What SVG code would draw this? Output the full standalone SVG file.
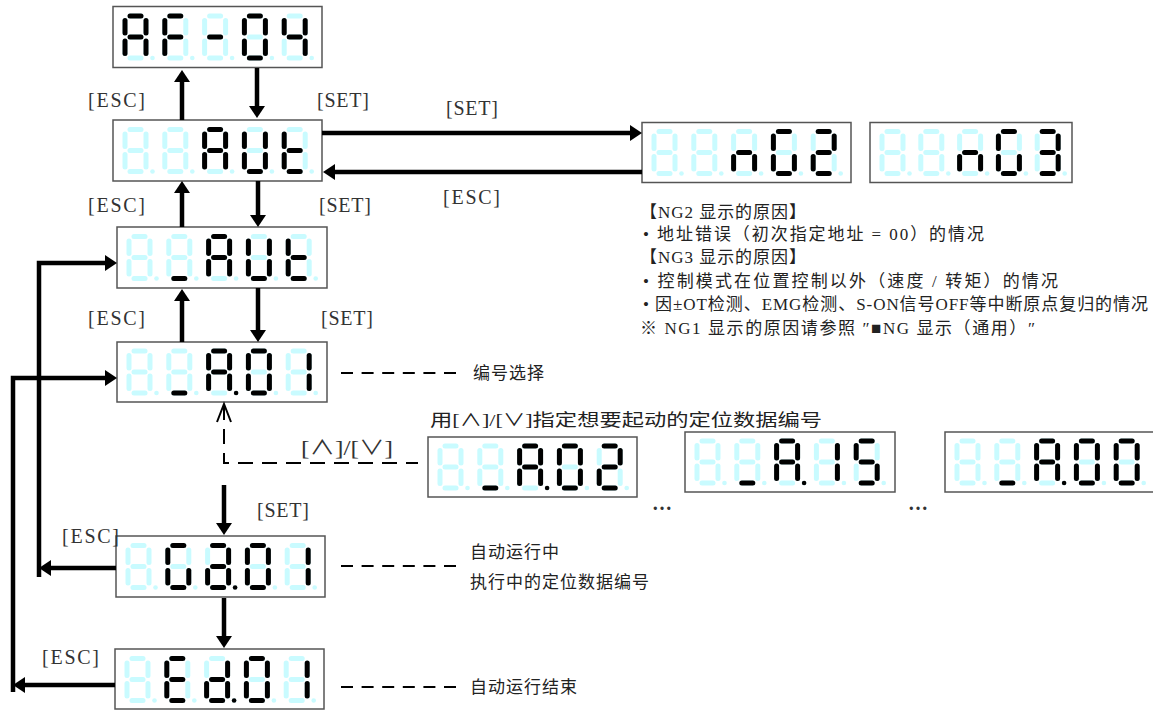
<svg xmlns="http://www.w3.org/2000/svg" xmlns:xlink="http://www.w3.org/1999/xlink" width="1153" height="710" viewBox="0 0 1153 710">
<style>
.box{fill:#fff;stroke:#555;stroke-width:1.5}
.on{fill:#000}
.off{fill:#c9fbff}
.conn{stroke:#000;stroke-width:4.5;fill:none}
.dash{stroke:#000;stroke-width:2;fill:none;stroke-dasharray:15 9}
.ldash{stroke:#000;stroke-width:2;fill:none;stroke-dasharray:12 8.6}
.lbl{font-family:"Liberation Serif","Noto Sans CJK SC",serif;font-size:20px;fill:#333}
.txt{font-family:"Liberation Serif","Noto Sans CJK SC",serif;font-size:17px;fill:#222}
</style>
<defs>
<rect id="sa" x="5" y="0" width="16" height="5" rx="2.5"/>
<rect id="sb" x="21" y="4.5" width="5" height="17.5" rx="2.5"/>
<rect id="sc" x="21" y="25" width="5" height="17.5" rx="2.5"/>
<rect id="sd" x="5" y="42" width="16" height="5" rx="2.5"/>
<rect id="se" x="0" y="25" width="5" height="17.5" rx="2.5"/>
<rect id="sf" x="0" y="4.5" width="5" height="17.5" rx="2.5"/>
<rect id="sg" x="5" y="21" width="16" height="5" rx="2.5"/>
<circle id="sp" cx="30" cy="44.5" r="2.3"/>
<g id="d8" class="off">
<use href="#sa"/><use href="#sb"/><use href="#sc"/><use href="#sd"/><use href="#se"/><use href="#sf"/><use href="#sg"/><use href="#sp"/>
</g>
<marker id="ah" markerUnits="userSpaceOnUse" markerWidth="14" markerHeight="16" refX="4" refY="8" orient="auto">
<path d="M0,0 L12,8 L0,16 z" fill="#000"/>
</marker>
</defs>

<!-- AF-04 -->
<g id="disp-af04" transform="translate(113,6.5)">
<rect class="box" width="209" height="61"/>
<g transform="translate(9.5,7)"><use href="#d8"/><g class="on"><use href="#sa"/><use href="#sb"/><use href="#sc"/><use href="#se"/><use href="#sf"/><use href="#sg"/></g></g>
<g transform="translate(49.3,7)"><use href="#d8"/><g class="on"><use href="#sa"/><use href="#se"/><use href="#sf"/><use href="#sg"/></g></g>
<g transform="translate(89.1,7)"><use href="#d8"/><g class="on"><use href="#sg"/></g></g>
<g transform="translate(128.9,7)"><use href="#d8"/><g class="on"><use href="#sa"/><use href="#sb"/><use href="#sc"/><use href="#sd"/><use href="#se"/><use href="#sf"/></g></g>
<g transform="translate(168.7,7)"><use href="#d8"/><g class="on"><use href="#sb"/><use href="#sc"/><use href="#sf"/><use href="#sg"/></g></g>
</g>

<!-- AUt 1 -->
<g id="disp-aut1" transform="translate(113,120)">
<rect class="box" width="209" height="61"/>
<g transform="translate(9.5,7)"><use href="#d8"/></g>
<g transform="translate(49.3,7)"><use href="#d8"/></g>
<g transform="translate(89.1,7)"><use href="#d8"/><g class="on"><use href="#sa"/><use href="#sb"/><use href="#sc"/><use href="#se"/><use href="#sf"/><use href="#sg"/></g></g>
<g transform="translate(128.9,7)"><use href="#d8"/><g class="on"><use href="#sb"/><use href="#sc"/><use href="#sd"/><use href="#se"/><use href="#sf"/></g></g>
<g transform="translate(168.7,7)"><use href="#d8"/><g class="on"><use href="#sd"/><use href="#se"/><use href="#sf"/><use href="#sg"/></g></g>
</g>

<!-- _AUt -->
<g id="disp-aut2" transform="translate(117,227)">
<rect class="box" width="210" height="61"/>
<g transform="translate(9.5,7)"><use href="#d8"/></g>
<g transform="translate(49.3,7)"><use href="#d8"/><g class="on"><use href="#sd"/></g></g>
<g transform="translate(89.1,7)"><use href="#d8"/><g class="on"><use href="#sa"/><use href="#sb"/><use href="#sc"/><use href="#se"/><use href="#sf"/><use href="#sg"/></g></g>
<g transform="translate(128.9,7)"><use href="#d8"/><g class="on"><use href="#sb"/><use href="#sc"/><use href="#sd"/><use href="#se"/><use href="#sf"/></g></g>
<g transform="translate(168.7,7)"><use href="#d8"/><g class="on"><use href="#sd"/><use href="#se"/><use href="#sf"/><use href="#sg"/></g></g>
</g>

<!-- _A.01 -->
<g id="disp-a01" transform="translate(117,342)">
<rect class="box" width="210" height="60"/>
<g transform="translate(9.5,6.5)"><use href="#d8"/></g>
<g transform="translate(49.3,6.5)"><use href="#d8"/><g class="on"><use href="#sd"/></g></g>
<g transform="translate(89.1,6.5)"><use href="#d8"/><g class="on"><use href="#sa"/><use href="#sb"/><use href="#sc"/><use href="#se"/><use href="#sf"/><use href="#sg"/><use href="#sp"/></g></g>
<g transform="translate(128.9,6.5)"><use href="#d8"/><g class="on"><use href="#sa"/><use href="#sb"/><use href="#sc"/><use href="#sd"/><use href="#se"/><use href="#sf"/></g></g>
<g transform="translate(168.7,6.5)"><use href="#d8"/><g class="on"><use href="#sb"/><use href="#sc"/></g></g>
</g>

<!-- nG2 -->
<g id="disp-ng2" transform="translate(642,122.5)">
<rect class="box" width="209" height="60"/>
<g transform="translate(9.5,6.5)"><use href="#d8"/></g>
<g transform="translate(49.3,6.5)"><use href="#d8"/></g>
<g transform="translate(89.1,6.5)"><use href="#d8"/><g class="on"><use href="#sc"/><use href="#se"/><use href="#sg"/></g></g>
<g transform="translate(128.9,6.5)"><use href="#d8"/><g class="on"><use href="#sa"/><use href="#sc"/><use href="#sd"/><use href="#se"/><use href="#sf"/></g></g>
<g transform="translate(168.7,6.5)"><use href="#d8"/><g class="on"><use href="#sa"/><use href="#sb"/><use href="#sd"/><use href="#se"/><use href="#sg"/></g></g>
</g>

<!-- nG3 -->
<g id="disp-ng3" transform="translate(870,122.5)">
<rect class="box" width="202" height="60"/>
<g transform="translate(9.5,6.5)"><use href="#d8"/></g>
<g transform="translate(48.3,6.5)"><use href="#d8"/></g>
<g transform="translate(87.1,6.5)"><use href="#d8"/><g class="on"><use href="#sc"/><use href="#se"/><use href="#sg"/></g></g>
<g transform="translate(125.9,6.5)"><use href="#d8"/><g class="on"><use href="#sa"/><use href="#sc"/><use href="#sd"/><use href="#se"/><use href="#sf"/></g></g>
<g transform="translate(164.7,6.5)"><use href="#d8"/><g class="on"><use href="#sa"/><use href="#sb"/><use href="#sc"/><use href="#sd"/><use href="#sg"/></g></g>
</g>

<!-- _A.02 -->
<g id="disp-a02" transform="translate(428,437)">
<rect class="box" width="209" height="60"/>
<g transform="translate(9.5,6.5)"><use href="#d8"/></g>
<g transform="translate(49.3,6.5)"><use href="#d8"/><g class="on"><use href="#sd"/></g></g>
<g transform="translate(89.1,6.5)"><use href="#d8"/><g class="on"><use href="#sa"/><use href="#sb"/><use href="#sc"/><use href="#se"/><use href="#sf"/><use href="#sg"/><use href="#sp"/></g></g>
<g transform="translate(128.9,6.5)"><use href="#d8"/><g class="on"><use href="#sa"/><use href="#sb"/><use href="#sc"/><use href="#sd"/><use href="#se"/><use href="#sf"/></g></g>
<g transform="translate(168.7,6.5)"><use href="#d8"/><g class="on"><use href="#sa"/><use href="#sb"/><use href="#sd"/><use href="#se"/><use href="#sg"/></g></g>
</g>

<!-- _A.15 -->
<g id="disp-a15" transform="translate(685,432)">
<rect class="box" width="210" height="60"/>
<g transform="translate(9.5,6.5)"><use href="#d8"/></g>
<g transform="translate(49.3,6.5)"><use href="#d8"/><g class="on"><use href="#sd"/></g></g>
<g transform="translate(89.1,6.5)"><use href="#d8"/><g class="on"><use href="#sa"/><use href="#sb"/><use href="#sc"/><use href="#se"/><use href="#sf"/><use href="#sg"/><use href="#sp"/></g></g>
<g transform="translate(128.9,6.5)"><use href="#d8"/><g class="on"><use href="#sb"/><use href="#sc"/></g></g>
<g transform="translate(168.7,6.5)"><use href="#d8"/><g class="on"><use href="#sa"/><use href="#sc"/><use href="#sd"/><use href="#sf"/><use href="#sg"/></g></g>
</g>

<!-- _A.00 -->
<g id="disp-a00" transform="translate(945,432)">
<rect class="box" width="210" height="60"/>
<g transform="translate(9.5,6.5)"><use href="#d8"/></g>
<g transform="translate(49.3,6.5)"><use href="#d8"/><g class="on"><use href="#sd"/></g></g>
<g transform="translate(89.1,6.5)"><use href="#d8"/><g class="on"><use href="#sa"/><use href="#sb"/><use href="#sc"/><use href="#se"/><use href="#sf"/><use href="#sg"/><use href="#sp"/></g></g>
<g transform="translate(128.9,6.5)"><use href="#d8"/><g class="on"><use href="#sa"/><use href="#sb"/><use href="#sc"/><use href="#sd"/><use href="#se"/><use href="#sf"/></g></g>
<g transform="translate(168.7,6.5)"><use href="#d8"/><g class="on"><use href="#sa"/><use href="#sb"/><use href="#sc"/><use href="#sd"/><use href="#se"/><use href="#sf"/></g></g>
</g>

<!-- Ga.01 -->
<g id="disp-ga01" transform="translate(116,536)">
<rect class="box" width="209" height="61"/>
<g transform="translate(9.5,7)"><use href="#d8"/></g>
<g transform="translate(49.3,7)"><use href="#d8"/><g class="on"><use href="#sa"/><use href="#sc"/><use href="#sd"/><use href="#se"/><use href="#sf"/></g></g>
<g transform="translate(89.1,7)"><use href="#d8"/><g class="on"><use href="#sa"/><use href="#sb"/><use href="#sc"/><use href="#sd"/><use href="#se"/><use href="#sg"/><use href="#sp"/></g></g>
<g transform="translate(128.9,7)"><use href="#d8"/><g class="on"><use href="#sa"/><use href="#sb"/><use href="#sc"/><use href="#sd"/><use href="#se"/><use href="#sf"/></g></g>
<g transform="translate(168.7,7)"><use href="#d8"/><g class="on"><use href="#sb"/><use href="#sc"/></g></g>
</g>

<!-- Ed.01 -->
<g id="disp-ed01" transform="translate(115,649)">
<rect class="box" width="209" height="60"/>
<g transform="translate(9.5,7)"><use href="#d8"/></g>
<g transform="translate(49.3,7)"><use href="#d8"/><g class="on"><use href="#sa"/><use href="#sd"/><use href="#se"/><use href="#sf"/><use href="#sg"/></g></g>
<g transform="translate(89.1,7)"><use href="#d8"/><g class="on"><use href="#sb"/><use href="#sc"/><use href="#sd"/><use href="#se"/><use href="#sg"/><use href="#sp"/></g></g>
<g transform="translate(128.9,7)"><use href="#d8"/><g class="on"><use href="#sa"/><use href="#sb"/><use href="#sc"/><use href="#sd"/><use href="#se"/><use href="#sf"/></g></g>
<g transform="translate(168.7,7)"><use href="#d8"/><g class="on"><use href="#sb"/><use href="#sc"/></g></g>
</g>

<!-- connectors -->
<g id="connectors">
<line class="conn" x1="182" y1="120" x2="182" y2="78" marker-end="url(#ah)"/>
<line class="conn" x1="257" y1="68" x2="257" y2="110" marker-end="url(#ah)"/>
<line class="conn" x1="182" y1="227" x2="182" y2="189" marker-end="url(#ah)"/>
<line class="conn" x1="258" y1="181" x2="258" y2="219" marker-end="url(#ah)"/>
<line class="conn" x1="182" y1="342" x2="182" y2="297" marker-end="url(#ah)"/>
<line class="conn" x1="258" y1="288" x2="258" y2="334" marker-end="url(#ah)"/>
<line class="conn" x1="322" y1="133" x2="634" y2="133" marker-end="url(#ah)"/>
<line class="conn" x1="642" y1="172" x2="331" y2="172" marker-end="url(#ah)"/>
<line class="conn" x1="224" y1="485" x2="224" y2="527" marker-end="url(#ah)"/>
<line class="conn" x1="224" y1="598" x2="224" y2="640" marker-end="url(#ah)"/>
<line class="conn" x1="116" y1="568" x2="47" y2="568" marker-end="url(#ah)"/>
<path class="conn" d="M39,577 V263 H109" marker-end="url(#ah)"/>
<line class="conn" x1="115" y1="685" x2="21" y2="685" marker-end="url(#ah)"/>
<path class="conn" d="M13,692 V378 H109" marker-end="url(#ah)"/>
<polyline points="217,422 224,404 231,422" fill="none" stroke="#000" stroke-width="2"/>
<path class="dash" d="M224,405 V463 H418"/>
<line class="ldash" x1="341" y1="373" x2="457" y2="373"/>
<line class="ldash" x1="341" y1="566" x2="457" y2="566"/>
<line class="ldash" x1="341" y1="687" x2="457" y2="687"/>
</g>

<!-- labels -->
<g id="labels">
<text class="lbl" x="88" y="107" textLength="57" lengthAdjust="spacing">[ESC]</text>
<text class="lbl" x="317" y="107" textLength="52" lengthAdjust="spacing">[SET]</text>
<text class="lbl" x="446" y="115" textLength="52" lengthAdjust="spacing">[SET]</text>
<text class="lbl" x="443" y="204" textLength="57" lengthAdjust="spacing">[ESC]</text>
<text class="lbl" x="88" y="212" textLength="57" lengthAdjust="spacing">[ESC]</text>
<text class="lbl" x="319" y="212" textLength="52" lengthAdjust="spacing">[SET]</text>
<text class="lbl" x="88" y="325" textLength="57" lengthAdjust="spacing">[ESC]</text>
<text class="lbl" x="321" y="325" textLength="52" lengthAdjust="spacing">[SET]</text>
<text class="lbl" x="257" y="517" textLength="52" lengthAdjust="spacing">[SET]</text>
<text class="lbl" x="62" y="543" textLength="57" lengthAdjust="spacing">[ESC]</text>
<text class="lbl" x="42" y="664" textLength="57" lengthAdjust="spacing">[ESC]</text>
<text class="lbl" x="301" y="455" textLength="92" lengthAdjust="spacingAndGlyphs">[∧]/[∨]</text>
<text class="txt" x="473" y="379" letter-spacing="1">编号选择</text>
<text class="txt" x="430" y="426" textLength="392" lengthAdjust="spacingAndGlyphs">用[∧]/[∨]指定想要起动的定位数据编号</text>
<text class="txt" x="470" y="558" letter-spacing="1">自动运行中</text>
<text class="txt" x="470" y="588" letter-spacing="1">执行中的定位数据编号</text>
<text class="txt" x="470" y="693" letter-spacing="1">自动运行结束</text>
<text class="lbl" x="652" y="510" font-weight="bold">…</text>
<text class="lbl" x="908" y="510" font-weight="bold">…</text>
<text class="txt" x="640" y="218" textLength="166" lengthAdjust="spacing">【NG2 显示的原因】</text>
<text class="txt" x="643" y="240" textLength="341" lengthAdjust="spacing">• 地址错误（初次指定地址 = 00）的情况</text>
<text class="txt" x="640" y="263" textLength="166" lengthAdjust="spacing">【NG3 显示的原因】</text>
<text class="txt" x="643" y="287" textLength="415" lengthAdjust="spacing">• 控制模式在位置控制以外（速度 / 转矩）的情况</text>
<text class="txt" x="643" y="310" textLength="505" lengthAdjust="spacing">• 因±OT检测、EMG检测、S-ON信号OFF等中断原点复归的情况</text>
<text class="txt" x="640" y="334" textLength="395" lengthAdjust="spacing">※ NG1 显示的原因请参照 ″■NG 显示（通用）″</text>
</g>
</svg>
